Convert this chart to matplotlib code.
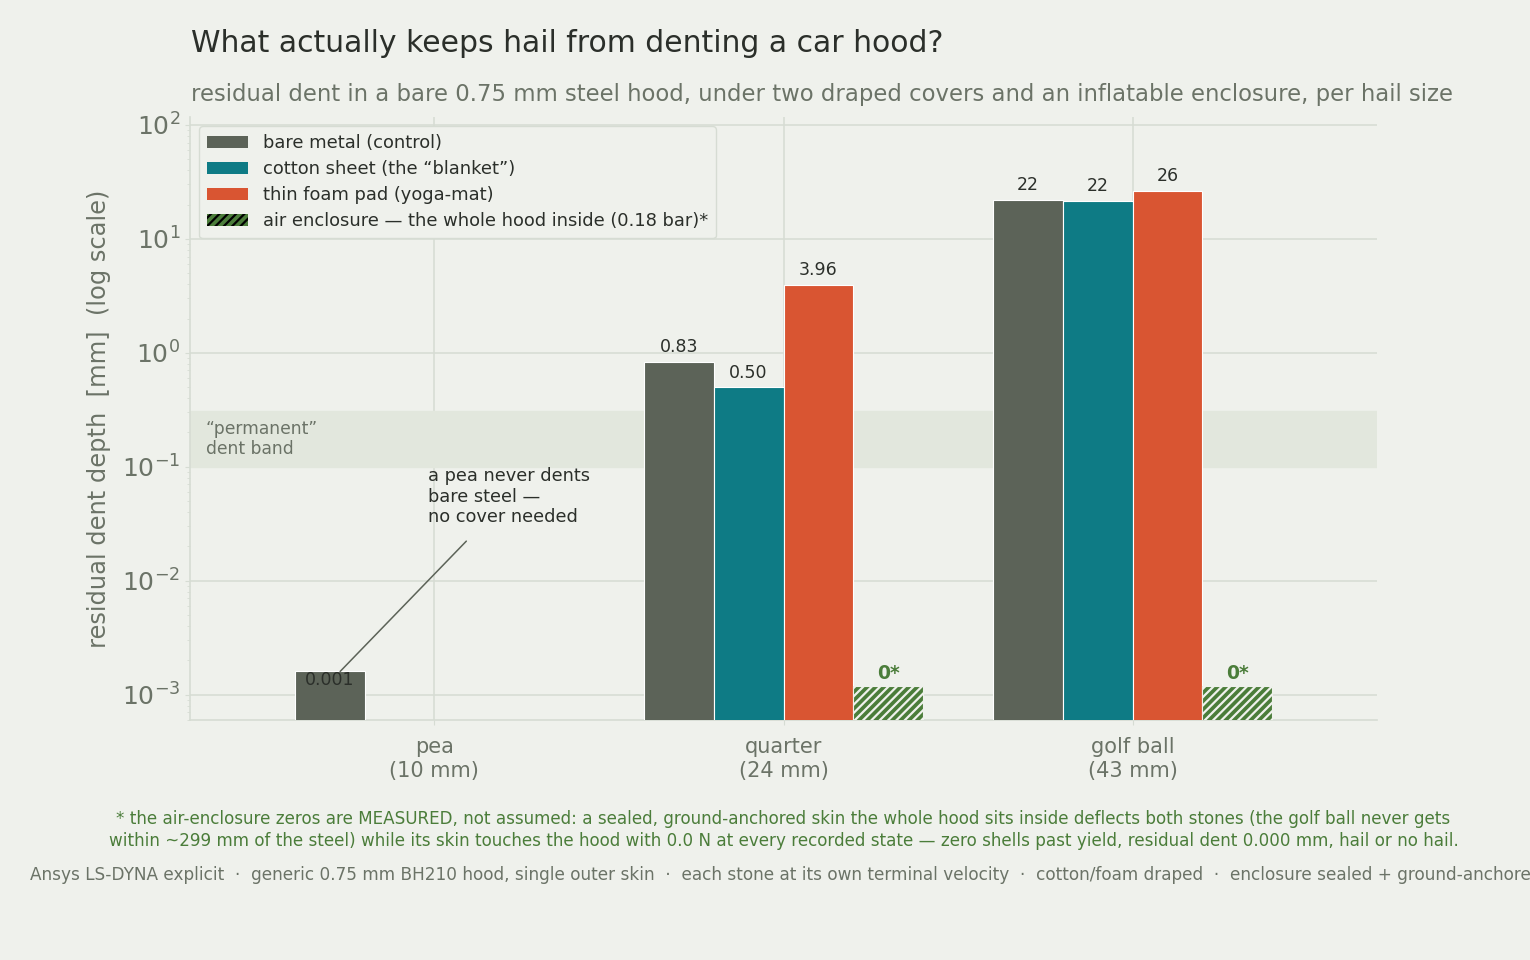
import numpy as np
import matplotlib
matplotlib.use('Agg')
import matplotlib.pyplot as plt
from matplotlib.patches import Patch

# hail sizes and residual dent depths (mm); nan = not simulated
hail_sizes = ['pea\n(10 mm)', 'quarter\n(24 mm)', 'golf ball\n(43 mm)']
bare_metal = [0.0016, 0.83, 22.0]
cotton_sheet = [np.nan, 0.50, 21.7]
foam_pad = [np.nan, 3.96, 26.4]
air_enclosure = [np.nan, 0.0, 0.0]
zero_marker = 0.0012   # height used to show a measured zero on the log axis

series_names = ['bare metal (control)', 'cotton sheet (the \u201cblanket\u201d)',
                'thin foam pad (yoga-mat)',
                'air enclosure \u2014 the whole hood inside (0.18 bar)*']

BG = '#eff1ec'
GRAY = '#5c6358'
TEAL = '#0e7b85'
ORANGE = '#d95532'
GREEN = '#4b7d3a'
TXT = '#6b7367'
DARK = '#2b2f2a'
GRID = '#d6dcd3'

plt.rcParams['font.family'] = ['DejaVu Sans']
plt.rcParams['hatch.color'] = 'white'
plt.rcParams['hatch.linewidth'] = 1.6

fig = plt.figure(figsize=(15.3, 9.6), dpi=100, facecolor=BG)
ax = fig.add_axes([0.1242, 0.25, 0.7758, 0.628])
ax.set_facecolor(BG)

x = np.arange(len(hail_sizes))
w = 0.2

def fmt(v):
    if v >= 10:
        return f'{v:.0f}'
    if v >= 0.01:
        return f'{v:.2f}'
    return f'{np.floor(v * 1000) / 1000:.3f}'

for vals, off, col in [(bare_metal, -0.3, GRAY), (cotton_sheet, -0.1, TEAL), (foam_pad, 0.1, ORANGE)]:
    ax.bar(x + off, vals, w, color=col, edgecolor='white', linewidth=0.8, zorder=3)
    for xi, v in zip(x, vals):
        if np.isnan(v):
            continue
        if v < 0.01:
            ax.annotate(fmt(v), (xi + off, v), xytext=(0, 0), textcoords='offset points',
                        ha='center', va='top', fontsize=12.5, color=DARK, zorder=4)
        else:
            ax.annotate(fmt(v), (xi + off, v), xytext=(0, 4), textcoords='offset points',
                        ha='center', va='bottom', fontsize=12.5, color=DARK, zorder=4)

air_heights = [zero_marker if v == 0 else v for v in air_enclosure]
ax.bar(x + 0.3, air_heights, w, color=GREEN, edgecolor=BG, linewidth=0.8, hatch='////', zorder=3)
for xi, v, h in zip(x, air_enclosure, air_heights):
    if np.isnan(v):
        continue
    ax.annotate('0*', (xi + 0.3, h), xytext=(0, 2), textcoords='offset points',
                ha='center', va='bottom', fontsize=13.5, fontweight='bold', color=GREEN, zorder=4)

# "permanent" dent band
ax.axhspan(0.1, 0.31, color='#e2e7dd', zorder=1)
ax.text(-0.655, 0.175, '\u201cpermanent\u201d\ndent band', fontsize=12.3, color=TXT,
        va='center', ha='left', zorder=2)

ax.annotate('a pea never dents\nbare steel \u2014\nno cover needed', xy=(-0.27, 0.0016),
            xytext=(-0.017, 0.1), ha='left', va='top', fontsize=12.8, color=DARK,
            arrowprops=dict(arrowstyle='-', color=GRAY, lw=1.1, shrinkA=12, shrinkB=0), zorder=5)

ax.set_yscale('log')
ax.set_ylim(6e-4, 117)
ax.set_xlim(-0.7, 2.7)
ax.set_xticks(x)
ax.set_xticklabels(hail_sizes, fontsize=15, color=TXT)
ax.tick_params(axis='y', labelsize=18, colors=TXT)
ax.tick_params(axis='x', colors=GRID, labelcolor=TXT, pad=9)
ax.tick_params(axis='y', which='both', color=GRID)
ax.grid(True, which='major', color=GRID, lw=1.1, zorder=0)
ax.set_axisbelow(True)
for s in ['top', 'right']:
    ax.spines[s].set_visible(False)
for s in ['left', 'bottom']:
    ax.spines[s].set_color(GRID)
    ax.spines[s].set_linewidth(1.2)
ax.set_ylabel('residual dent depth  [mm]  (log scale)', fontsize=17.4, color=TXT, labelpad=8)

handles = [Patch(facecolor=GRAY), Patch(facecolor=TEAL), Patch(facecolor=ORANGE),
           Patch(facecolor=GREEN, hatch='////', edgecolor='black', linewidth=0)]
leg = ax.legend(handles, series_names, loc='upper left', fontsize=12.9, frameon=True,
                facecolor=BG, edgecolor=GRID, framealpha=1, borderpad=0.45,
                handlelength=2.3, labelspacing=0.45, bbox_to_anchor=(0.0, 1.0))
for t in leg.get_texts():
    t.set_color(DARK)

fig.text(191 / 1530, 1 - 43 / 960, 'What actually keeps hail from denting a car hood?',
         fontsize=21.5, color=DARK, ha='left', va='center')
fig.text(191 / 1530, 1 - 95 / 960,
         'residual dent in a bare 0.75 mm steel hood, under two draped covers and an inflatable enclosure, per hail size',
         fontsize=16.4, color=TXT, ha='left', va='center')
fig.text(783.5 / 1530, 1 - 830 / 960,
         '* the air-enclosure zeros are MEASURED, not assumed: a sealed, ground-anchored skin the whole hood sits inside deflects both stones (the golf ball never gets\n'
         'within ~299 mm of the steel) while its skin touches the hood with 0.0 N at every recorded state \u2014 zero shells past yield, residual dent 0.000 mm, hail or no hail.',
         fontsize=12.1, color=GREEN, ha='center', va='center', linespacing=1.32)
fig.text(30 / 1530, 1 - 875 / 960,
         'Ansys LS-DYNA explicit  \u00b7  generic 0.75 mm BH210 hood, single outer skin  \u00b7  each stone at its own terminal velocity  \u00b7  cotton/foam draped  \u00b7  enclosure sealed + ground-anchored',
         fontsize=12.2, color=TXT, ha='left', va='center')

fig.savefig('out.png', dpi=100, facecolor=BG)
